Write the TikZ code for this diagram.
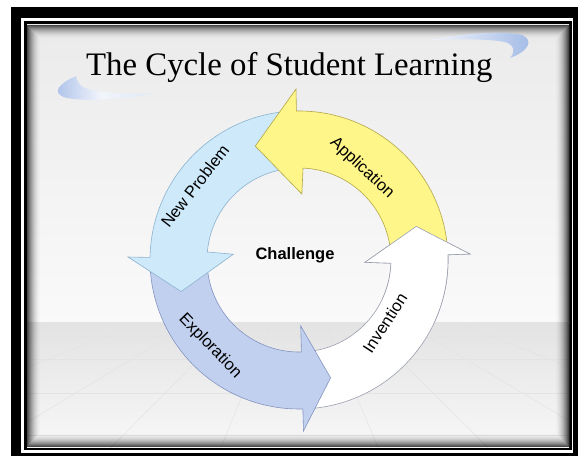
\documentclass[tikz,border=0pt]{standalone}
\usepackage{fontspec}
\setmainfont{Liberation Serif}
\newfontfamily\arialfont{Liberation Sans}
\definecolor{yel}{HTML}{FFF68A}
\definecolor{yelD}{HTML}{B3A64A}
\definecolor{npb}{HTML}{CDE9FA}
\definecolor{npbD}{HTML}{8DB3CE}
\definecolor{exb}{HTML}{C2D0EF}
\definecolor{exbD}{HTML}{8494C2}
\definecolor{inw}{HTML}{FFFFFF}
\definecolor{inwD}{HTML}{9A9FAE}
\definecolor{swoosh}{HTML}{A2BAE6}
% start angle, outer barb angle, inner barb angle, tip angle
\newcommand\arrowpath[4]{(#1:149pt) arc[start angle=#1, end angle=#2, radius=149pt] -- (#2:171pt) -- (#4:122pt) -- (#3:66pt) -- (#3:92pt) arc[start angle=#3, end angle=#1, radius=92pt] -- cycle}
\tikzset{
  arrowshape/.style={line width=0.6pt, line join=miter},
  lbl/.style={font=\arialfont\fontsize{16.5}{18}\selectfont, inner sep=0pt},
  gridline/.style={draw=black!11, line width=0.5pt}
}
\begin{document}
\begin{tikzpicture}[x=1pt,y=1pt]
\useasboundingbox (0,0) rectangle (578,459);
\fill[white] (0,0) rectangle (578,459);
% frame
\fill[black] (11,3) rectangle (578,452);
\fill[white] (21,6) rectangle (573,441);
\fill[black] (24,9) rectangle (572,438);
% slide background
\shade[top color=black!8, bottom color=black!2] (27,137) rectangle (569,434);
\shade[top color=black!11, bottom color=black!3] (27,12) rectangle (569,137);
\begin{scope}
  \clip (27,12) rectangle (569,137);
  \foreach \yy in {122,100,66,24} \draw[gridline] (27,\yy) -- (569,\yy);
  \foreach \xx in {-600,-300,-100,60,200,400,540,700,900,1200} \draw[gridline] (298,200) -- (\xx,-40);
\end{scope}
% vignette
\foreach \i in {0,...,13}{
  \pgfmathsetmacro\op{0.7*(1-\i/14)^2}
  \draw[black, opacity=\op, line width=1pt] (27.5+\i,12.5+\i) rectangle (568.5-\i,433.5-\i);
}
% swooshes
\shade[left color=swoosh, right color=swoosh!35, middle color=white!85!swoosh]
  (76,383) .. controls (62,377) and (48,366) .. (67,361) .. controls (90,357) and (130,360) .. (154,366)
  .. controls (130,364) and (100,366) .. (85,371) .. controls (80,373) and (77,377) .. (76,383) -- cycle;
\shade[left color=swoosh!15, right color=swoosh]
  (431,419) .. controls (460,425) and (500,429) .. (522,424) .. controls (534,419) and (529,408) .. (510,401)
  .. controls (516,408) and (514,414) .. (505,417) .. controls (490,420) and (460,420) .. (431,419) -- cycle;
% title
\node[anchor=base west, inner sep=0pt, font=\fontsize{32.8}{36}\selectfont] (title) at (86,384) {The Cycle of Student Learning};
% cycle arrows
\begin{scope}[shift={(299,199)}]
  \filldraw[arrowshape, fill=inw, draw=inwD] \arrowpath{275}{362}{358}{376};
  \filldraw[arrowshape, fill=exb, draw=exbD] \arrowpath{181}{271.5}{271.5}{285};
  \filldraw[arrowshape, fill=npb, draw=npbD] \arrowpath{93}{179}{175}{195};
  \filldraw[arrowshape, fill=yel, draw=yelD] \arrowpath{4}{91}{87.5}{111};
  \begin{scope}
    \clip (0,0) -- (335:230pt) -- (0:230pt) -- (30:230pt) -- cycle;
    \filldraw[arrowshape, fill=inw, draw=inwD] \arrowpath{275}{362}{358}{376};
  \end{scope}
\end{scope}
% labels
\node[lbl, font=\arialfont\bfseries\fontsize{16.5}{18}\selectfont] (challenge) at (295,204) {Challenge};
\node[lbl, rotate=-43] (lapp) at (362,291) {Application};
\node[lbl, rotate=52] (lnew) at (195,273) {New Problem};
\node[lbl, rotate=-46] (lexp) at (210,113) {Exploration};
\node[lbl, rotate=57] (linv) at (385,136) {Invention};
\end{tikzpicture}
\end{document}
